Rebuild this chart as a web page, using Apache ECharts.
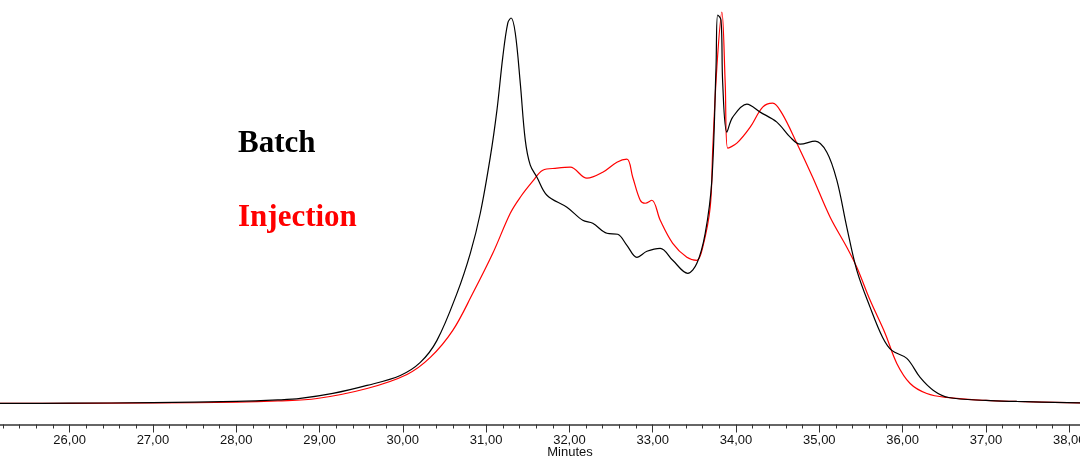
<!DOCTYPE html>
<html>
<head>
<meta charset="utf-8">
<script src="https://cdn.jsdelivr.net/npm/echarts@6/dist/echarts.min.js"></script>
<style>
html,body{margin:0;padding:0;background:#fff;}
#chart{width:1080px;height:456px;}
</style>
</head>
<body>
<div id="chart"></div>
<script>
// Retention time (minutes) and detector signal (arbitrary units)
var batchTime = [25.16,26.0,27.0,28.0,28.5,28.77,29.16,29.57,29.97,30.21,30.41,30.65,30.81,30.93,31.05,31.13,31.20,31.26,31.30,31.35,31.41,31.47,31.53,31.61,31.73,31.97,32.16,32.28,32.45,32.58,32.69,32.81,32.93,33.09,33.24,33.42,33.53,33.63,33.71,33.76,33.78,33.82,33.84,33.89,33.96,34.13,34.29,34.49,34.65,34.77,34.95,35.09,35.21,35.33,35.45,35.61,35.76,35.87,36.05,36.21,36.37,36.55,37.0,37.37,38.13];
var batchSignal = [0,0.3,0.8,2,3.5,5,10,18,28,41,63,110,150,190,246,293,346,380,385,370,320,263,238,226,208,196,183,180,170,169,158,146,152,155,143,130,140,170,223,336,388,383,320,271,286,299,291,281,266,259,262,251,223,176,133,96,66,53,45,26,13,6,3,2,0.5];

var injTime = [25.16,26.0,27.0,28.0,28.5,28.97,29.57,30.05,30.33,30.60,30.84,31.08,31.29,31.41,31.56,31.68,31.85,32.01,32.21,32.40,32.57,32.69,32.76,32.85,32.91,32.99,33.09,33.24,33.41,33.53,33.60,33.69,33.72,33.77,33.83,33.87,33.90,34.01,34.17,34.32,34.44,34.55,34.73,34.92,35.13,35.33,35.45,35.61,35.79,35.93,36.09,36.29,36.53,37.0,37.37,38.13];
var injSignal = [0,0.2,0.5,1.2,2.5,5,15,29,46,73,110,150,190,206,222,233,235,236,225,231,241,244,226,203,200,203,183,160,146,143,156,196,253,336,391,320,255,260,276,296,300,290,260,226,186,156,136,103,70,40,20,10,6,3,2,0.5];

var seriesNames = ['Batch', 'Injection'];
var axisTitle = 'Minutes';

function pairs(t, v) {
  var out = [];
  for (var i = 0; i < t.length; i++) out.push([t[i], v[i]]);
  return out;
}

var chart = echarts.init(document.getElementById('chart'), null, {renderer: 'canvas'});
chart.setOption({
  animation: false,
  backgroundColor: '#ffffff',
  grid: {left: -13.7, width: 1099.6, top: 0, bottom: 31.5, containLabel: false, outerBoundsMode: 'none'},
  xAxis: {
    type: 'value',
    min: 25,
    max: 38.2,
    interval: 1,
    axisLine: {show: true, onZero: false, lineStyle: {color: '#333', width: 1.5}},
    axisTick: {show: true, length: 8, lineStyle: {color: '#333', width: 1}},
    minorTick: {show: true, splitNumber: 5, length: 4, lineStyle: {color: '#333', width: 1}},
    splitLine: {show: false},
    axisLabel: {
      show: true,
      margin: 9,
      color: '#111',
      fontFamily: 'Liberation Sans, Arial, sans-serif',
      fontSize: 13,
      formatter: function (v) { return v < 25.5 ? '' : v.toFixed(2).replace('.', ','); }
    }
  },
  yAxis: {
    type: 'value',
    min: -21,
    max: 403,
    show: false
  },
  graphic: [
    {type: 'text', x: 238, y: 143.5, style: {text: seriesNames[0], fill: '#000', font: 'bold 31px "Liberation Serif", "Times New Roman", serif', verticalAlign: 'middle'}},
    {type: 'text', x: 238, y: 217.5, style: {text: seriesNames[1], fill: '#ff0000', font: 'bold 31px "Liberation Serif", "Times New Roman", serif', verticalAlign: 'middle'}},
    {type: 'text', x: 570, y: 446, style: {text: axisTitle, fill: '#111', font: '13px "Liberation Sans", Arial, sans-serif', align: 'center', verticalAlign: 'top'}}
  ],
  series: [
    {
      name: seriesNames[1], type: 'line', data: pairs(injTime, injSignal),
      showSymbol: false, smooth: 0.35, lineStyle: {color: '#ff0000', width: 1.2}, z: 2
    },
    {
      name: seriesNames[0], type: 'line', data: pairs(batchTime, batchSignal),
      showSymbol: false, smooth: 0.35, lineStyle: {color: '#000000', width: 1.2}, z: 3
    }
  ]
});
</script>
</body>
</html>
